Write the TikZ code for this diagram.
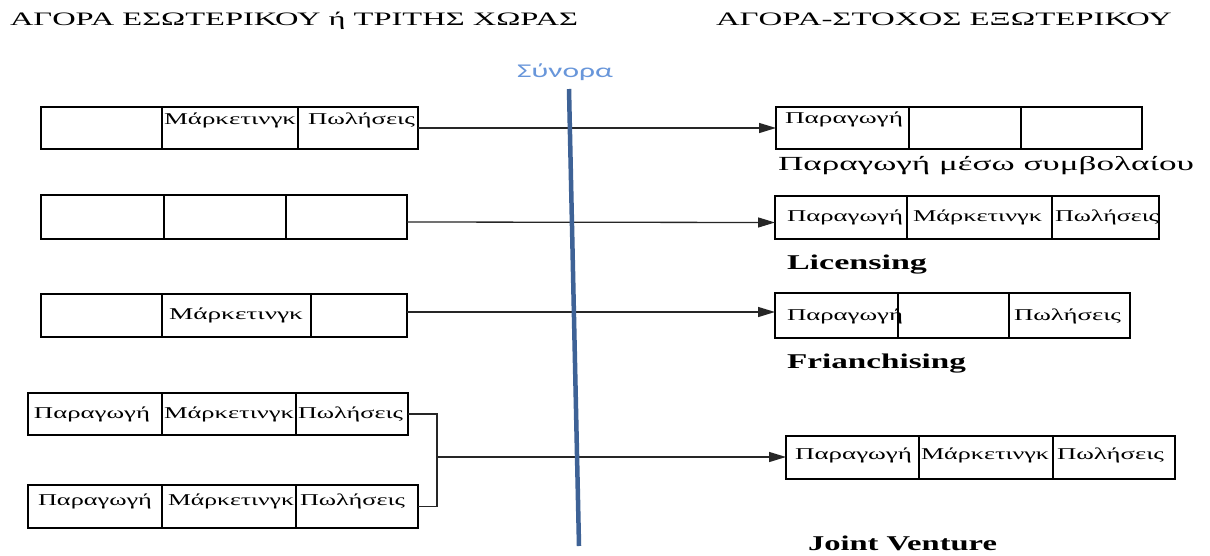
\documentclass[tikz,border=0pt]{standalone}
\usepackage{fontspec}
\setmainfont{Liberation Serif}
\newfontfamily\sansf{Carlito}
\usetikzlibrary{arrows.meta}
\definecolor{bordline}{RGB}{62,98,150}
\definecolor{bordtext}{RGB}{104,150,218}
\newcommand\wt[3]{\resizebox{#1pt}{\height}{\fontsize{#2}{#2}\selectfont #3}}
\newcommand\cellrow[7]{%
 \node[cell, minimum width={(#5-#4)*1pt}, minimum height={(#3-#2)*1pt}] (#1a) at ({(#4+#5)/2},{(#2+#3)/2}) {};
 \node[cell, minimum width={(#6-#5)*1pt}, minimum height={(#3-#2)*1pt}] (#1b) at ({(#5+#6)/2},{(#2+#3)/2}) {};
 \node[cell, minimum width={(#7-#6)*1pt}, minimum height={(#3-#2)*1pt}] (#1c) at ({(#6+#7)/2},{(#2+#3)/2}) {};
}
\begin{document}
\begin{tikzpicture}[x=1pt,y=-1pt,
  cell/.style={draw=black, line width=1.3pt, inner sep=0pt, outer sep=0pt},
  txt/.style={anchor=base west, inner sep=0pt, outer sep=0pt},
  conn/.style={line width=1.3pt, black!85},
  arr/.style={conn, -{Triangle[length=17pt,width=10pt]}}]
\useasboundingbox[fill=white] (0,0) rectangle (1210,555);

% titles
\node[txt] (tl) at (10,25.5) {\wt{568}{19}{ΑΓΟΡΑ ΕΣΩΤΕΡΙΚΟΥ ή ΤΡΙΤΗΣ ΧΩΡΑΣ}};
\node[txt] (tr) at (716,25.5) {\wt{456}{19}{ΑΓΟΡΑ-ΣΤΟΧΟΣ ΕΞΩΤΕΡΙΚΟΥ}};

% cells
\cellrow{La}{107}{149}{41}{162}{298}{418}
\cellrow{Ra}{107}{149}{776}{909}{1021}{1142}
\cellrow{Lb}{195}{239}{41}{164}{286}{407}
\cellrow{Rb}{196}{239}{775}{907}{1052}{1159}
\cellrow{Lc}{294}{337}{41}{162}{311}{407}
\cellrow{Rc}{293}{338}{775}{898}{1009}{1130}
\cellrow{Ld}{393}{435}{28}{162}{296}{408}
\cellrow{Le}{485}{528}{28}{162}{296}{418}
\cellrow{Rd}{436}{479}{786}{919}{1053}{1175}
\draw[line width=2.8pt] (Lcb.north east) -- (Lcb.south east);

% cell texts
\node[txt] (t1) at (164,124) {\wt{132}{16.5}{Μάρκετινγκ}};
\node[txt] (t2) at (308,124) {\wt{107}{16.5}{Πωλήσεις}};
\node[txt] (t3) at (785,123) {\wt{118}{16.5}{Παραγωγή}};
\node[txt] (t4) at (787,221) {\wt{116}{16.5}{Παραγωγή}};
\node[txt] (t5) at (913,221) {\wt{129}{16.5}{Μάρκετινγκ}};
\node[txt] (t6) at (1055,221) {\wt{104}{16.5}{Πωλήσεις}};
\node[txt] (t7) at (169,319) {\wt{134}{16.5}{Μάρκετινγκ}};
\node[txt] (t8) at (787,320) {\wt{116}{16.5}{Παραγωγή}};
\node[txt] (t9) at (1014,320) {\wt{107}{16.5}{Πωλήσεις}};
\node[txt] (t10) at (34,418) {\wt{116}{16.5}{Παραγωγή}};
\node[txt] (t11) at (164,418) {\wt{130}{16.5}{Μάρκετινγκ}};
\node[txt] (t12) at (298,418) {\wt{105}{16.5}{Πωλήσεις}};
\node[txt] (t13) at (38,505) {\wt{114}{16.5}{Παραγωγή}};
\node[txt] (t14) at (168,505) {\wt{126}{16.5}{Μάρκετινγκ}};
\node[txt] (t15) at (300,505) {\wt{105}{16.5}{Πωλήσεις}};
\node[txt] (t16) at (795,459) {\wt{117}{16.5}{Παραγωγή}};
\node[txt] (t17) at (921,459) {\wt{128}{16.5}{Μάρκετινγκ}};
\node[txt] (t18) at (1057,459) {\wt{107}{16.5}{Πωλήσεις}};

% method labels
\node[txt] (m1) at (778,170) {\wt{416}{20}{Παραγωγή μέσω συμβολαίου}};
\node[txt] (m2) at (787,269) {\bfseries\wt{140}{21}{Licensing}};
\node[txt] (m3) at (787,368) {\bfseries\wt{179}{21}{Frianchising}};
\node[txt] (m4) at (808,550) {\bfseries\wt{189}{21}{Joint Venture}};

% connectors
\draw[arr] (Lac.east) -- (Raa.west);
\draw[arr] ([yshift=-5pt]Lbc.east) -- ([yshift=-5pt]Rba.west);
\draw[arr] ([yshift=3.5pt]Lcc.east) -- ([yshift=3.5pt]Rca.west);
\coordinate (j) at (437,457);
\draw[conn] (Ldc.east) -| (j);
\draw[conn] (Lec.east) -| (j);
\draw[arr] (j) -- (j -| Rda.west);

% border
\coordinate (b1) at (569,89);
\coordinate (b2) at (579,546);
\draw[line width=4.5pt, bordline] (b1) -- (b2);
\node[txt, text=bordtext] (syn) at (517,77) {\sansf\wt{96}{19.5}{Σύνορα}};
\end{tikzpicture}
\end{document}
